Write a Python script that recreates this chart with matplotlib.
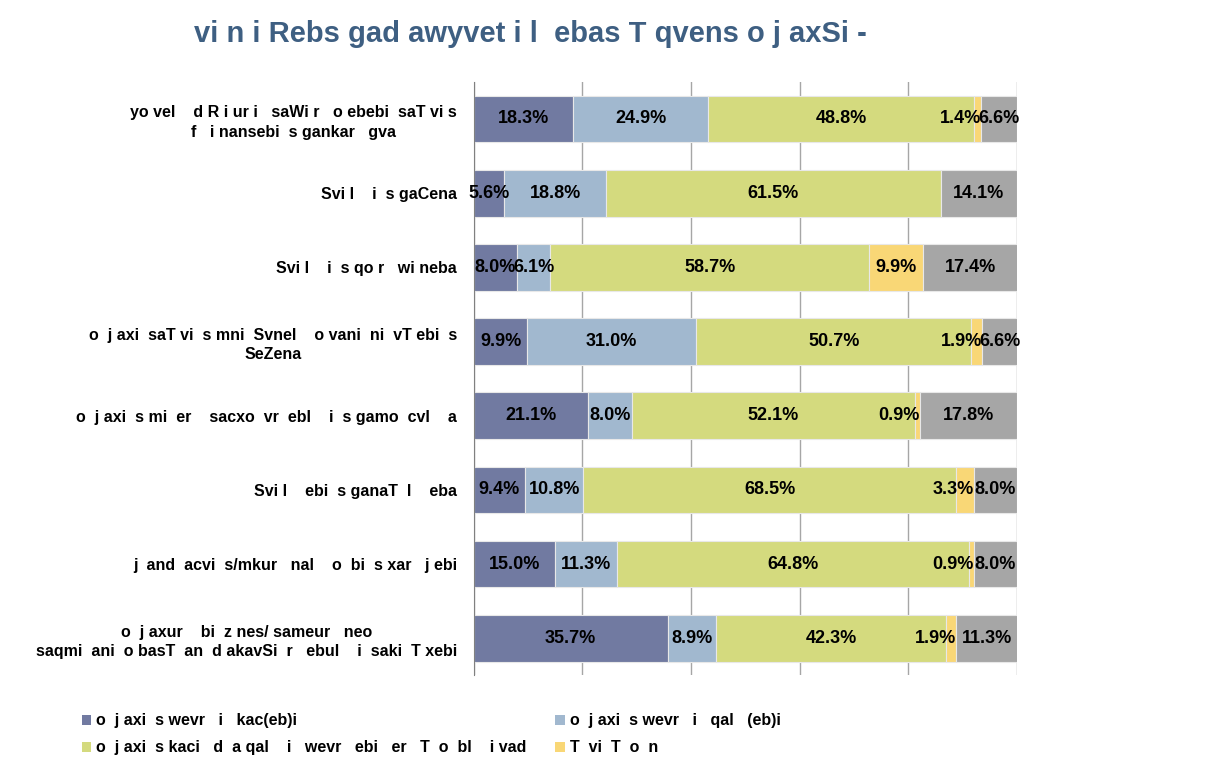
import numpy as np
import matplotlib
matplotlib.use('Agg')
import matplotlib.pyplot as plt
from matplotlib.patches import Patch

plt.rcParams['font.family'] = ['Liberation Sans', 'DejaVu Sans']

title = 'vi n i Rebs gad awyvet i l  ebas T qvens o j axSi -'

categories = [
    'yo vel    d R i ur i   saWi r   o ebebi  saT vi s\nf   i nansebi  s gankar   gva',
    'Svi l    i  s gaCena',
    'Svi l    i  s qo r   wi neba',
    'o  j axi  saT vi  s mni  Svnel    o vani  ni  vT ebi  s\nSeZena',
    'o  j axi  s mi  er    sacxo  vr  ebl    i  s gamo  cvl    a',
    'Svi l    ebi  s ganaT  l    eba',
    'j  and  acvi  s/mkur   nal    o  bi  s xar   j ebi',
    'o  j axur    bi  z nes/ sameur   neo\nsaqmi  ani  o basT  an  d akavSi  r   ebul    i  saki  T xebi',
]

series_names = [
    'o  j axi  s wevr   i   kac(eb)i',
    'o  j axi  s wevr   i   qal   (eb)i',
    'o  j axi  s kaci   d  a qal    i   wevr   ebi   er   T  o  bl    i vad',
    'T  vi  T  o  n',
]

men = [18.3, 5.6, 8.0, 9.9, 21.1, 9.4, 15.0, 35.7]
women = [24.9, 18.8, 6.1, 31.0, 8.0, 10.8, 11.3, 8.9]
jointly = [48.8, 61.5, 58.7, 50.7, 52.1, 68.5, 64.8, 42.3]
self_ = [1.4, 0.0, 9.9, 1.9, 0.9, 3.3, 0.9, 1.9]
other = [6.6, 14.1, 17.4, 6.6, 17.8, 8.0, 8.0, 11.3]

colors = ['#717AA1', '#A1B8CF', '#D4DA7E', '#F9D776', '#A6A6A6']

fig = plt.figure(figsize=(12.24, 7.58), dpi=100)
ax = fig.add_axes([0.387, 0.109, 0.444, 0.783])

y = np.arange(len(categories))
left = np.zeros(len(categories))
for k, (vals, col) in enumerate(zip([men, women, jointly, self_, other], colors)):
    vals = np.array(vals)
    ax.barh(y, vals, left=left, height=0.63, color=col, edgecolor='#E8E8E8',
            linewidth=0.8, zorder=2)
    for yi, l, v in zip(y, left, vals):
        if v <= 0:
            continue
        if k == 3 and v < 4:
            # narrow "self" segments: label ends at the segment's right edge
            ax.text(l + v, yi, f'{v:.1f}%', ha='right', va='center',
                    fontsize=13, fontweight='bold', color='black', zorder=3)
        else:
            ax.text(l + v / 2, yi, f'{v:.1f}%', ha='center', va='center',
                    fontsize=13, fontweight='bold', color='black', zorder=3)
    left += vals

ax.set_xlim(0, 100)
ax.set_ylim(len(categories) - 0.5, -0.5)
ax.set_xticks([0, 20, 40, 60, 80, 100])
ax.xaxis.grid(True, color='#A6A6A6', linewidth=1.0, zorder=0)
ax.set_xticklabels([])
ax.tick_params(axis='x', length=0)
ax.set_yticks(y)
ax.set_yticklabels(categories, fontsize=11.5, fontweight='bold', ha='right',
                   multialignment='center', linespacing=1.35)
ax.tick_params(axis='y', length=0, pad=12)
for s in ['top', 'right', 'bottom']:
    ax.spines[s].set_visible(False)
ax.spines['left'].set_color('#808080')

fig.text(0.433, 0.955, title, ha='center', va='center', fontsize=21,
         fontweight='bold', color='#3E5F82')

# legend is filled column-wise, so order the handles to read row-wise
order = [0, 2, 1, 3]
handles = [Patch(facecolor=colors[i], edgecolor='none') for i in order]
labels = [series_names[i] for i in order]
fig.legend(handles, labels, loc='upper left',
           bbox_to_anchor=(0.055, 0.078), ncol=2, frameon=False,
           prop={'weight': 'bold', 'size': 11.5}, handlelength=0.6,
           handleheight=0.6, handletextpad=0.3, columnspacing=1.8,
           labelspacing=0.75)

fig.savefig('out.png', dpi=100)
